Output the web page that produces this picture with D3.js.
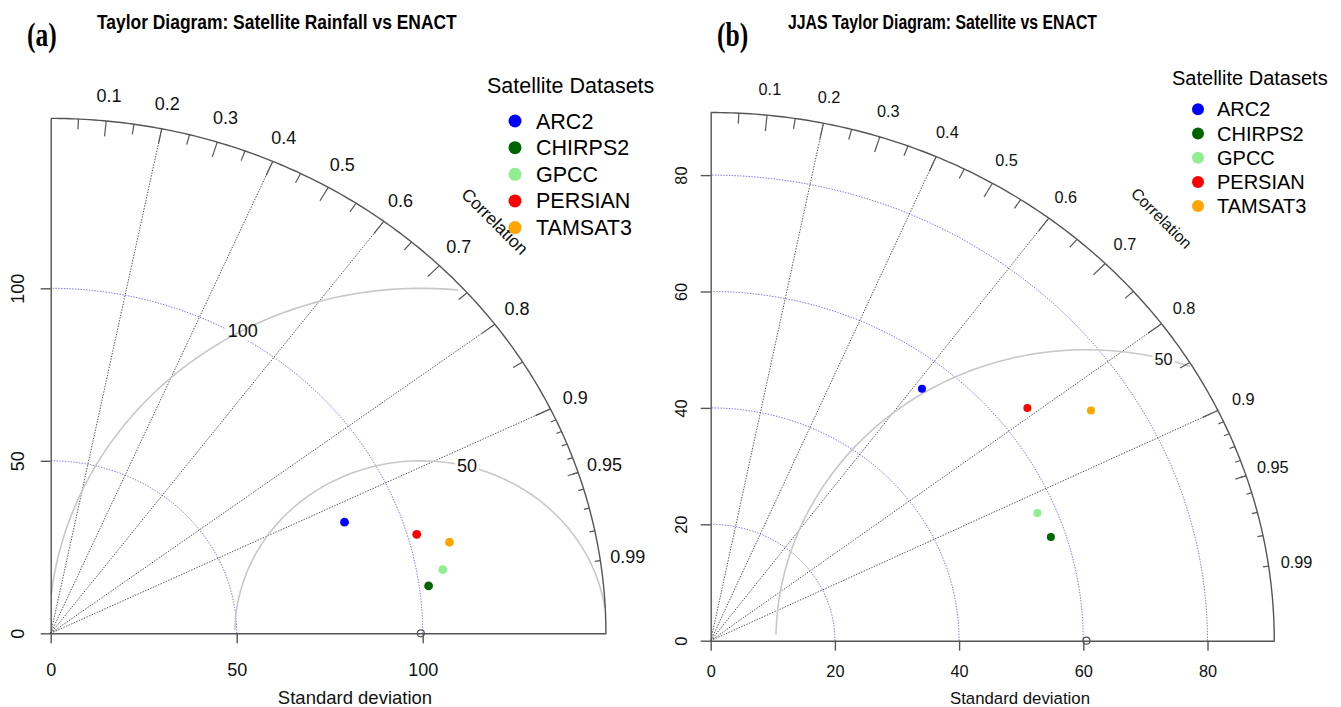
<!DOCTYPE html>
<html>
<head>
<meta charset="utf-8">
<script src="https://cdnjs.cloudflare.com/ajax/libs/d3/7.8.5/d3.min.js"></script>
<style>
  body { margin: 0; background: #fff; }
  svg text { font-family: "Liberation Sans", Arial, sans-serif; fill: #111; }
</style>
</head>
<body>
<svg id="chart" width="1341" height="707"></svg>
<script>
// ---- data ----
const datasets = ["ARC2", "CHIRPS2", "GPCC", "PERSIAN", "TAMSAT3"];
const colors = ["#0000ff", "#006400", "#90ee90", "#ff0000", "#ffa500"];

// (a) all months
const sdAnnual = [85.3, 102.5, 107.0, 102.5, 110.4];
const corAnnual = [0.926, 0.991, 0.985, 0.960, 0.971];
const refSdAnnual = 99.5;

// (b) JJAS
const sdJjas = [55.05, 57.6, 57.0, 64.8, 72.9];
const corJjas = [0.618, 0.951, 0.923, 0.787, 0.840];
const refSdJjas = 60.5;

const corLabels = [0.1, 0.2, 0.3, 0.4, 0.5, 0.6, 0.7, 0.8, 0.9, 0.95, 0.99];
const corRays = [0.2, 0.4, 0.6, 0.8, 0.9];
const bigTicks = [0.1, 0.2, 0.3, 0.4, 0.5, 0.6, 0.7, 0.8, 0.9];
const medTicks = [0.05, 0.15, 0.25, 0.35, 0.45, 0.55, 0.65, 0.75, 0.85, 0.95];
const smlTicks = [0.91, 0.92, 0.93, 0.94, 0.95, 0.96, 0.97, 0.98, 0.99];

const sdArcsAnnual = [50, 100];
const sdArcsJjas = [20, 40, 60, 80];
const gammaAnnual = [50, 100];
const gammaJjas = [50];
const axisTicksAnnual = [0, 50, 100];
const axisTicksJjas = [0, 20, 40, 60, 80];

const svg = d3.select("#chart");

const panels = [
  {
    tag: "(a)", tagX: 27, title: "Taylor Diagram: Satellite Rainfall vs ENACT", titleX: 97, titleW: 360, titleSize: 21,
    sd: sdAnnual, cor: corAnnual, refSd: refSdAnnual,
    sdArcs: sdArcsAnnual, gammas: gammaAnnual, ticks: axisTicksAnnual,
    x0: 50.7, y0: 633.3, kx: 3.72, ky: 3.45,
    font: 18, corFont: 17.5, xlabX: 355, xlabY: 697.5, xlabSize: 18.5,
    xTickOff: 36, yTickOff: 33, pointR: 4.4,
    legX: 487, legCx: 515, legTx: 536, legTitleY: 85, legY: 121, legStep: 26.65, legFont: 21.5, legR: 6.5
  },
  {
    tag: "(b)", tagX: 717, title: "JJAS Taylor Diagram: Satellite vs ENACT", titleX: 788, titleW: 309, titleSize: 19.5,
    sd: sdJjas, cor: corJjas, refSd: refSdJjas,
    sdArcs: sdArcsJjas, gammas: gammaJjas, ticks: axisTicksJjas,
    x0: 710.7, y0: 640.7, kx: 6.21, ky: 5.82,
    font: 16.3, corFont: 16, xlabX: 1020, xlabY: 698, xlabSize: 16.8,
    xTickOff: 31, yTickOff: 29.7, pointR: 4,
    legX: 1172, legCx: 1198, legTx: 1217, legTitleY: 78, legY: 109.3, legStep: 24.2, legFont: 20, legR: 6
  }
];

function drawTaylor(p) {
  const maxray = 1.5 * p.refSd;
  const x = d3.scaleLinear().domain([0, maxray]).range([p.x0, p.x0 + maxray * p.kx]);
  const y = d3.scaleLinear().domain([0, maxray]).range([p.y0, p.y0 - maxray * p.ky]);
  const line = d3.line().x(d => x(d[0])).y(d => y(d[1]));
  const arc = (r) => d3.range(0, 181).map(i => {
    const a = (Math.PI / 2) * i / 180;
    return [r * Math.cos(a), r * Math.sin(a)];
  });
  const g = svg.append("g");

  // titles
  svg.append("text").attr("x", p.tagX).attr("y", 46)
    .attr("transform", `translate(${p.tagX},0) scale(0.75,1) translate(${-p.tagX},0)`)
    .style("font-family", "'Liberation Serif', 'Times New Roman', serif")
    .style("font-weight", "bold").style("font-size", "34px").style("fill", "#000")
    .text(p.tag);
  const title = svg.append("text").attr("x", p.titleX).attr("y", 29)
    .style("font-weight", "bold").style("font-size", p.titleSize + "px").style("fill", "#000")
    .text(p.title);
  const sx = p.titleW / title.node().getComputedTextLength();
  title.attr("transform", `translate(${p.titleX},0) scale(${sx},1) translate(${-p.titleX},0)`);

  // sd arcs (blue dotted)
  p.sdArcs.forEach(r => {
    g.append("path").attr("d", line(arc(r)))
      .attr("fill", "none").attr("stroke", "#0000ff").attr("stroke-opacity", 0.55)
      .attr("stroke-width", 1).attr("stroke-dasharray", "1.4,1.4");
  });

  // correlation rays
  corRays.forEach(c => {
    const a = Math.acos(c);
    g.append("path").attr("d", line([[0, 0], [maxray * Math.cos(a), maxray * Math.sin(a)]]))
      .attr("fill", "none").attr("stroke", "#333").attr("stroke-opacity", 0.85)
      .attr("stroke-width", 1).attr("stroke-dasharray", "1.4,1.4");
  });

  // centred rms circles
  const n = p.gammas.length;
  p.gammas.forEach((gm, k) => {
    const ts = d3.range(0, Math.PI, 0.03);
    const pts = ts.map(t => [p.refSd + gm * Math.cos(t), gm * Math.sin(t)]);
    const inside = pts.filter(q => q[0] >= 0 && q[0] * q[0] + q[1] * q[1] <= maxray * maxray);
    g.append("path").attr("d", line(inside))
      .attr("fill", "none").attr("stroke", "#c8c8c8").attr("stroke-width", 1.6);
    const idx = n === 1 ? 45 : 45 + (70 - 45) * k / (n - 1);
    const t = (Math.round(idx) - 1) * 0.03;
    const lx = x(p.refSd + gm * Math.cos(t)), ly = y(gm * Math.sin(t));
    const lbl = g.append("text").attr("x", lx).attr("y", ly).attr("dy", "0.35em")
      .attr("text-anchor", "middle").style("font-size", p.font + "px").text(gm);
    const bb = lbl.node().getBBox();
    g.insert("rect", "text").attr("x", bb.x - 2).attr("y", bb.y).attr("width", bb.width + 4)
      .attr("height", bb.height).attr("fill", "#fff");
  });

  // outer arc + ticks
  g.append("path").attr("d", line(arc(maxray)))
    .attr("fill", "none").attr("stroke", "#555").attr("stroke-width", 1.4);
  const tick = (vals, frac) => vals.forEach(c => {
    const a = Math.acos(c);
    g.append("path").attr("d", line([[maxray * Math.cos(a), maxray * Math.sin(a)],
      [frac * maxray * Math.cos(a), frac * maxray * Math.sin(a)]]))
      .attr("stroke", "#555").attr("stroke-width", 1.2);
  });
  tick(bigTicks, 0.97);
  tick(medTicks, 0.98);
  tick(smlTicks, 0.99);
  corLabels.forEach(c => {
    const a = Math.acos(c);
    g.append("text").attr("x", x(1.05 * maxray * Math.cos(a))).attr("y", y(1.05 * maxray * Math.sin(a)))
      .attr("dy", "0.35em").attr("text-anchor", "middle")
      .style("font-size", p.font + "px").text(c);
  });
  const cx = x(0.8 * maxray), cy = y(0.8 * maxray);
  g.append("text").attr("x", cx).attr("y", cy).attr("dy", "0.35em").attr("text-anchor", "middle")
    .attr("transform", `rotate(45,${cx},${cy})`)
    .style("font-size", p.corFont + "px").text("Correlation");

  // axes
  const xAxis = g.append("g").attr("transform", `translate(0,${p.y0})`)
    .call(d3.axisBottom(x).tickValues(p.ticks).tickSize(10).tickSizeOuter(0));
  xAxis.selectAll("text").attr("y", p.xTickOff).attr("dy", "0.35em")
    .style("font-size", p.font + "px").style("fill", "#111");
  const yAxis = g.append("g").attr("transform", `translate(${p.x0},0)`)
    .call(d3.axisLeft(y).tickValues(p.ticks).tickSize(10).tickSizeOuter(0));
  yAxis.selectAll("text").attr("transform", "rotate(-90)").attr("x", 0).attr("y", -p.yTickOff)
    .attr("dy", "0.35em").attr("text-anchor", "middle")
    .style("font-size", p.font + "px").style("fill", "#111");
  [xAxis, yAxis].forEach(ax => {
    ax.attr("font-family", null).attr("font-size", null);
    ax.selectAll("path, line").attr("stroke", "#555").attr("stroke-width", 1.4);
  });
  g.append("text").attr("x", p.xlabX).attr("y", p.xlabY).attr("dy", "0.35em").attr("text-anchor", "middle")
    .style("font-size", p.xlabSize + "px").text("Standard deviation");

  // reference point
  g.append("circle").attr("cx", x(p.refSd)).attr("cy", y(0)).attr("r", 3.5)
    .attr("fill", "none").attr("stroke", "#555").attr("stroke-width", 1.2);

  // model points
  g.selectAll("circle.pt").data(datasets).enter().append("circle").attr("class", "pt")
    .attr("cx", (d, i) => x(p.sd[i] * p.cor[i]))
    .attr("cy", (d, i) => y(p.sd[i] * Math.sin(Math.acos(p.cor[i]))))
    .attr("r", p.pointR).attr("fill", (d, i) => colors[i]);

  // legend
  const leg = svg.append("g");
  leg.append("text").attr("x", p.legX).attr("y", p.legTitleY).attr("dy", "0.35em")
    .style("font-size", p.legFont + "px").style("fill", "#000").text("Satellite Datasets");
  datasets.forEach((d, i) => {
    const ly = p.legY + i * p.legStep;
    leg.append("circle").attr("cx", p.legCx).attr("cy", ly).attr("r", p.legR).attr("fill", colors[i]);
    leg.append("text").attr("x", p.legTx).attr("y", ly).attr("dy", "0.35em")
      .style("font-size", p.legFont + "px").style("fill", "#000").text(d);
  });
}

panels.forEach(drawTaylor);
</script>
</body>
</html>
